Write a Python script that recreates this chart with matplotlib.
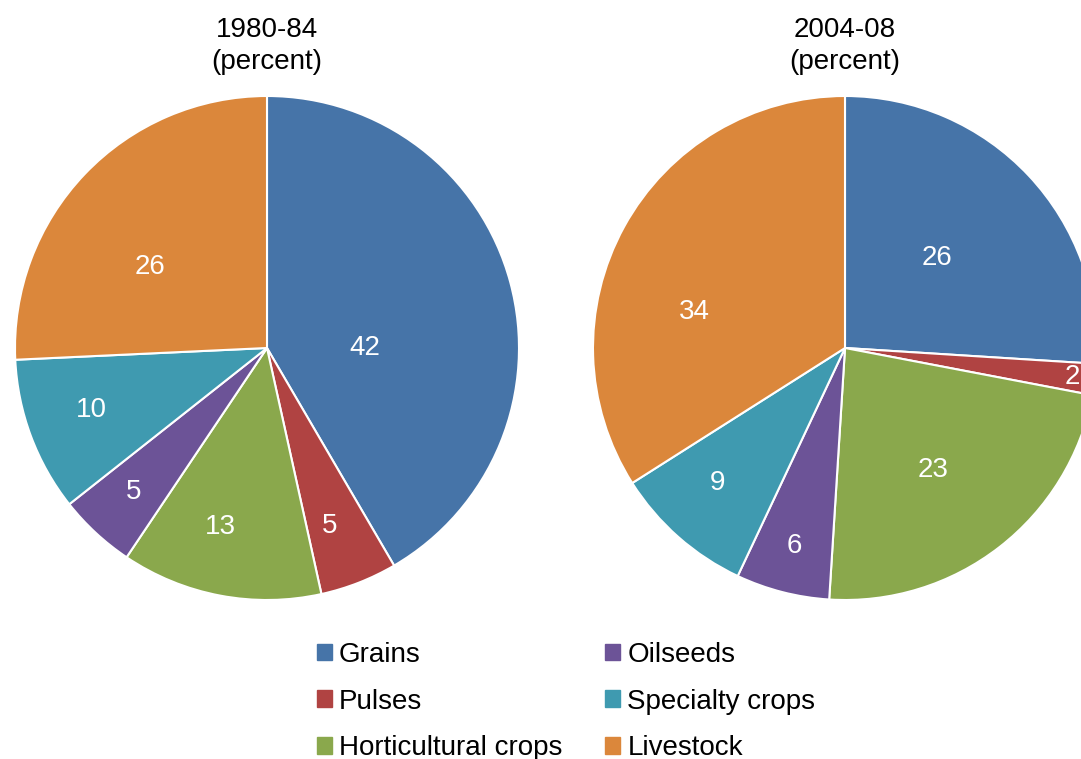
import numpy as np
import matplotlib.pyplot as plt

plt.rcParams['font.family'] = ['Liberation Sans', 'DejaVu Sans']

categories = ['Grains', 'Pulses', 'Horticultural crops', 'Oilseeds', 'Specialty crops', 'Livestock']
colors = ['#4674a8', '#b04342', '#8aa84c', '#6c5397', '#3f9ab0', '#db873b']
shares_1980 = [42, 5, 13, 5, 10, 26]
shares_2004 = [26, 2, 23, 6, 9, 34]
titles = ['1980-84\n(percent)', '2004-08\n(percent)']

# where the number sits inside each wedge: radius and angle shift from wedge middle
label_r_1980 = [0.39, 0.75, 0.735, 0.78, 0.74, 0.565]
label_da_1980 = [-15, -2, -4, 0, -1, 9]
label_r_2004 = [0.51, 0.91, 0.595, 0.81, 0.735, 0.615]
label_da_2004 = [1, 0, -2, 0, -2, 15.5]

W, H = 1081, 759
fig = plt.figure(figsize=(W / 100, H / 100), dpi=100)

R = 252
centers = [(267, 348), (845, 348)]

for (cx, cy), vals, lr, lda, title in zip(centers, [shares_1980, shares_2004],
                                          [label_r_1980, label_r_2004],
                                          [label_da_1980, label_da_2004], titles):
    ax = fig.add_axes([(cx - R) / W, (H - cy - R) / H, 2 * R / W, 2 * R / H])
    wedges, _ = ax.pie(vals, colors=colors, startangle=90, counterclock=False,
                       radius=1, wedgeprops=dict(edgecolor='white', linewidth=1.5))
    for w, v, r, da in zip(wedges, vals, lr, lda):
        ang = np.deg2rad((w.theta1 + w.theta2) / 2 + da)
        ax.text(r * np.cos(ang), r * np.sin(ang), str(v), color='white',
                fontsize=20, ha='center', va='center')
    ax.set_xlim(-1, 1)
    ax.set_ylim(-1, 1)
    ax.set_aspect('equal')
    ax.axis('off')
    fig.text(cx / W, 1 - 46 / H, title, ha='center', va='center',
             fontsize=20, linespacing=1.3)

handles = [plt.Rectangle((0, 0), 1, 1, color=c) for c in colors]
fig.legend(handles, categories, ncol=2, loc='upper left',
           bbox_to_anchor=(317 / W, 1 - 642 / H), frameon=False, fontsize=20,
           borderpad=0, borderaxespad=0,
           handlelength=0.54, handleheight=0.54, handletextpad=0.25,
           columnspacing=1.55, labelspacing=0.74)

fig.savefig('out.png', dpi=100)
